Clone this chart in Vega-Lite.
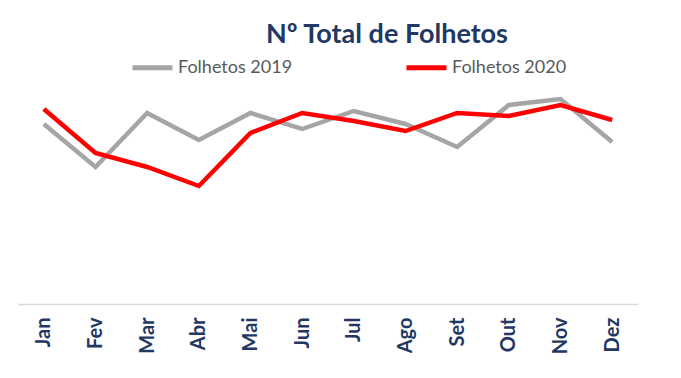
{
  "$schema": "https://vega.github.io/schema/vega-lite/v6.json",
  "autosize": "none",
  "width": 620,
  "height": 250,
  "padding": {"left": 18, "top": 54, "right": 43, "bottom": 74},
  "background": "white",
  "title": {
    "text": "Nº Total de Folhetos",
    "font": "Lato",
    "fontSize": 27,
    "fontWeight": "bold",
    "color": "#1F3864",
    "anchor": "middle",
    "dx": 59,
    "offset": -4
  },
  "data": {
    "values": [
      {"mes": "Jan", "serie": "Folhetos 2019", "valor": 180},
      {"mes": "Fev", "serie": "Folhetos 2019", "valor": 137},
      {"mes": "Mar", "serie": "Folhetos 2019", "valor": 191},
      {"mes": "Abr", "serie": "Folhetos 2019", "valor": 164},
      {"mes": "Mai", "serie": "Folhetos 2019", "valor": 191},
      {"mes": "Jun", "serie": "Folhetos 2019", "valor": 175},
      {"mes": "Jul", "serie": "Folhetos 2019", "valor": 193},
      {"mes": "Ago", "serie": "Folhetos 2019", "valor": 180},
      {"mes": "Set", "serie": "Folhetos 2019", "valor": 157},
      {"mes": "Out", "serie": "Folhetos 2019", "valor": 199},
      {"mes": "Nov", "serie": "Folhetos 2019", "valor": 205},
      {"mes": "Dez", "serie": "Folhetos 2019", "valor": 162},
      {"mes": "Jan", "serie": "Folhetos 2020", "valor": 195},
      {"mes": "Fev", "serie": "Folhetos 2020", "valor": 151},
      {"mes": "Mar", "serie": "Folhetos 2020", "valor": 137},
      {"mes": "Abr", "serie": "Folhetos 2020", "valor": 118},
      {"mes": "Mai", "serie": "Folhetos 2020", "valor": 171},
      {"mes": "Jun", "serie": "Folhetos 2020", "valor": 191},
      {"mes": "Jul", "serie": "Folhetos 2020", "valor": 183},
      {"mes": "Ago", "serie": "Folhetos 2020", "valor": 173},
      {"mes": "Set", "serie": "Folhetos 2020", "valor": 191},
      {"mes": "Out", "serie": "Folhetos 2020", "valor": 188},
      {"mes": "Nov", "serie": "Folhetos 2020", "valor": 199},
      {"mes": "Dez", "serie": "Folhetos 2020", "valor": 184}
    ]
  },
  "mark": {"type": "line", "strokeWidth": 4.5, "strokeJoin": "miter", "strokeCap": "butt"},
  "encoding": {
    "x": {
      "field": "mes",
      "type": "nominal",
      "sort": ["Jan", "Fev", "Mar", "Abr", "Mai", "Jun", "Jul", "Ago", "Set", "Out", "Nov", "Dez"],
      "scale": {"paddingInner": 0, "paddingOuter": 0},
      "axis": {
        "title": null,
        "labelAngle": -90,
        "labelFont": "Lato",
        "labelFontSize": 20,
        "labelFontWeight": "bold",
        "labelColor": "#1F3864",
        "labelPadding": 13,
        "ticks": false,
        "domainColor": "#D9D9D9",
        "domainWidth": 1.5,
        "grid": false
      }
    },
    "y": {
      "field": "valor",
      "type": "quantitative",
      "scale": {"domain": [0, 250]},
      "axis": null
    },
    "color": {
      "field": "serie",
      "type": "nominal",
      "scale": {"domain": ["Folhetos 2019", "Folhetos 2020"], "range": ["#A5A5A5", "#FF0000"]},
      "legend": {
        "title": null,
        "orient": "none",
        "direction": "horizontal",
        "legendX": 112,
        "legendY": -9,
        "symbolType": "stroke",
        "symbolSize": 1600,
        "symbolStrokeWidth": 5,
        "labelFont": "Lato",
        "labelFontSize": 18,
        "labelColor": "#595959",
        "labelOffset": 3,
        "columnPadding": 103
      }
    }
  },
  "config": {"view": {"stroke": null}}
}
